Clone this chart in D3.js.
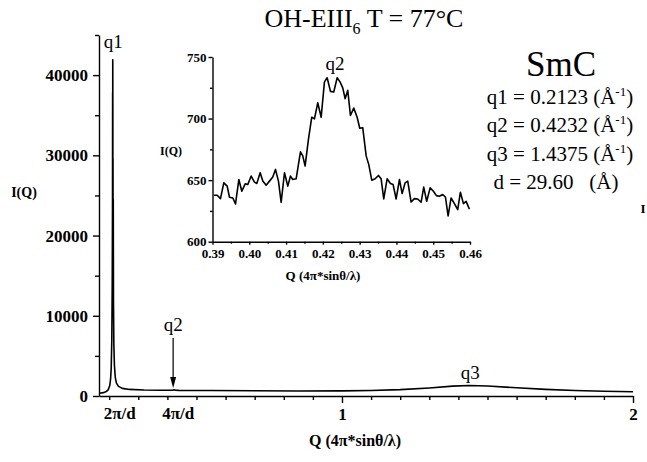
<!DOCTYPE html>
<html>
<head>
<meta charset="utf-8">
<script src="https://cdn.jsdelivr.net/npm/d3@7"></script>
<style>
  html, body { margin: 0; padding: 0; background: #fff; }
  svg { display: block; font-family: "Liberation Serif", "Times New Roman", serif; }
  .tick text { font-family: "Liberation Serif", serif; font-weight: bold; fill: #000; }
  .domain, .tick line { stroke: #000; stroke-width: 1.4; }
</style>
</head>
<body>
<svg id="chart" width="647" height="462"></svg>
<script>
// ---- Main pattern data (Q, I) ----
const mainQ = [0.167, 0.180, 0.190, 0.197, 0.202, 0.205, 0.207, 0.209, 0.2105, 0.2115, 0.2118, 0.2120, 0.2123, 0.2126, 0.2128, 0.2131, 0.2135, 0.2140, 0.2147, 0.216, 0.218, 0.221, 0.225, 0.232, 0.245, 0.27, 0.32, 0.38, 0.41, 0.418, 0.4232, 0.428, 0.44, 0.55, 0.7, 0.85, 1.0, 1.1, 1.2, 1.3, 1.38, 1.4375, 1.5, 1.6, 1.7, 1.8, 1.9, 2.0];
const mainI = [350, 420, 550, 800, 1300, 2200, 3500, 7000, 14000, 25000, 37800, 30000, 41900, 36000, 23000, 29500, 18000, 24500, 12000, 6500, 3800, 2300, 1600, 1200, 950, 820, 750, 720, 710, 720, 780, 720, 700, 680, 650, 630, 640, 680, 790, 1000, 1230, 1300, 1240, 1020, 820, 680, 590, 530];

// ---- Inset data (Q, I) around q2 ----
const insetQ = [0.39036, 0.39127, 0.39217, 0.39308, 0.39399, 0.39462, 0.39553, 0.39625, 0.39716, 0.39797, 0.39888, 0.39960, 0.40051, 0.40141, 0.40205, 0.40295, 0.40368, 0.40458, 0.40549, 0.40639, 0.40712, 0.40793, 0.40866, 0.40957, 0.41047, 0.41120, 0.41182, 0.41274, 0.41391, 0.41454, 0.41518, 0.41609, 0.41698, 0.41772, 0.41861, 0.41954, 0.42043, 0.42117, 0.42207, 0.42296, 0.42389, 0.42467, 0.42541, 0.42606, 0.42677, 0.42750, 0.42840, 0.42932, 0.43003, 0.43084, 0.43177, 0.43247, 0.43329, 0.43421, 0.43511, 0.43584, 0.43655, 0.43747, 0.43837, 0.43910, 0.43992, 0.44082, 0.44155, 0.44236, 0.44307, 0.44399, 0.44489, 0.44579, 0.44671, 0.44742, 0.44823, 0.44916, 0.45005, 0.45087, 0.45168, 0.45258, 0.45332, 0.45405, 0.45486, 0.45576, 0.45666, 0.45739, 0.45821, 0.45894, 0.45984];
const insetI = [637.7, 637.7, 635.0, 647.8, 645.1, 636.1, 635.5, 630.6, 650.5, 641.0, 647.0, 646.4, 653.3, 648.4, 647.3, 656.0, 649.2, 645.9, 649.2, 652.5, 658.7, 649.2, 632.0, 656.0, 645.1, 653.3, 650.5, 651.1, 673.0, 669.7, 661.5, 683.3, 701.1, 699.7, 712.8, 701.1, 729.8, 733.1, 722.1, 721.6, 733.1, 729.8, 724.9, 716.1, 723.0, 702.5, 708.5, 701.1, 692.1, 692.6, 669.7, 662.8, 650.0, 651.1, 653.8, 651.1, 634.7, 651.1, 647.3, 646.4, 634.7, 650.5, 639.1, 647.8, 649.2, 632.2, 635.0, 634.7, 632.0, 644.3, 632.8, 643.7, 641.0, 637.4, 636.9, 638.3, 636.3, 621.0, 635.5, 630.9, 626.0, 640.2, 630.9, 632.8, 626.5];

// ---- Ticks ----
const mainYMajor = [0, 10000, 20000, 30000, 40000];
const mainYMinor = [5000, 15000, 25000, 35000, 45000];
const mainXMajor = [1, 2];
const mainXMinor = [0.2, 0.3, 0.4, 0.5, 0.6, 0.7, 0.8, 0.9, 1.1, 1.2, 1.3, 1.4, 1.5, 1.6, 1.7, 1.8, 1.9];
const insetYMajor = [600, 650, 700, 750];
const insetYMinor = [625, 675, 725];
const insetXMajor = [0.39, 0.40, 0.41, 0.42, 0.43, 0.44, 0.45, 0.46];
const insetXMinor = [0.395, 0.405, 0.415, 0.425, 0.435, 0.445, 0.455];

// ---- Peak annotations ----
const peakNames = ["q1", "q2", "q3"];
const peakQ = [0.2123, 0.4232, 1.4375];
const specialXLabels = ["2π/d", "4π/d"];
const specialXPos = [0.2123, 0.4232];
const infoLines = ["q1 = 0.2123", "q2 = 0.4232", "q3 = 1.4375"];

const svg = d3.select("#chart");

// ===== Main chart =====
const x = d3.scaleLinear().domain([0.165, 2]).range([99, 633]);
const y = d3.scaleLinear().domain([0, 45000]).range([396, 35]);

const gy = svg.append("g").attr("transform", "translate(99,0)");
gy.call(d3.axisLeft(y).tickValues(mainYMajor).tickSize(6).tickSizeOuter(0).tickPadding(5).tickFormat(d3.format("d")));
gy.selectAll(".tick text").style("font-size", "17px");
svg.append("g").attr("transform", "translate(99,0)")
  .call(d3.axisLeft(y).tickValues(mainYMinor).tickSize(4).tickSizeOuter(0).tickFormat(""))
  .select(".domain").remove();

const gx = svg.append("g").attr("transform", "translate(0,396)");
gx.call(d3.axisBottom(x).tickValues(mainXMajor).tickSize(7).tickSizeOuter(0).tickPadding(5).tickFormat(d3.format("d")));
gx.selectAll(".tick text").style("font-size", "17px");
svg.append("g").attr("transform", "translate(0,396)")
  .call(d3.axisBottom(x).tickValues(mainXMinor).tickSize(4).tickSizeOuter(0).tickFormat(""))
  .select(".domain").remove();

// special x labels
svg.selectAll("text.spec").data(specialXLabels).enter().append("text")
  .attr("class", "spec")
  .attr("x", (d, i) => x(specialXPos[i]) + (i === 0 ? 7 : 4))
  .attr("y", 419)
  .attr("text-anchor", "middle")
  .style("font-size", "17px").style("font-weight", "bold")
  .text(d => d);

const mainData = mainQ.map((q, i) => [q, mainI[i]]);
svg.append("path").datum(mainData)
  .attr("fill", "none").attr("stroke", "#000").attr("stroke-width", 1.6)
  .attr("stroke-linejoin", "round")
  .attr("d", d3.line().x(d => x(d[0])).y(d => y(d[1])));

// axis titles
svg.append("text").attr("x", 24).attr("y", 197).attr("text-anchor", "middle")
  .style("font-size", "14px").style("font-weight", "bold").text("I(Q)");
svg.append("text").attr("x", 355).attr("y", 446).attr("text-anchor", "middle")
  .style("font-size", "16px").style("font-weight", "bold").text("Q (4π*sinθ/λ)");

// peak labels
svg.append("text").attr("x", x(peakQ[0]) + 0.5).attr("y", 48).attr("text-anchor", "middle")
  .style("font-size", "19px").text(peakNames[0]);
svg.append("text").attr("x", x(peakQ[1]) - 1).attr("y", 331).attr("text-anchor", "middle")
  .style("font-size", "19px").text(peakNames[1]);
svg.append("text").attr("x", x(peakQ[2]) + 1).attr("y", 379).attr("text-anchor", "middle")
  .style("font-size", "19px").text(peakNames[2]);

// arrow to q2
const ax = x(peakQ[1]) - 1;
svg.append("line").attr("x1", ax).attr("x2", ax).attr("y1", 338).attr("y2", 380)
  .attr("stroke", "#000").attr("stroke-width", 1.2);
svg.append("path")
  .attr("d", `M${ax - 3},${377} L${ax + 3},${377} L${ax},${388} Z`)
  .attr("fill", "#000");

// title
const title = svg.append("text").attr("x", 364).attr("y", 27).attr("text-anchor", "middle")
  .style("font-size", "26px");
title.append("tspan").text("OH-EIII");
title.append("tspan").attr("dy", 7).style("font-size", "16px").text("6");
title.append("tspan").attr("dy", -7).text(" T = 77°C");

// info block
svg.append("text").attr("x", 561).attr("y", 76).attr("text-anchor", "middle")
  .style("font-size", "35px").text("SmC");
infoLines.forEach((t, i) => {
  const tx = svg.append("text").attr("x", 560).attr("y", 104 + i * 28.3).attr("text-anchor", "middle")
    .style("font-size", "21px");
  tx.append("tspan").text(t + " (Å");
  tx.append("tspan").attr("dy", -8).style("font-size", "13px").text("-1");
  tx.append("tspan").attr("dy", 8).text(")");
});
svg.append("text").attr("x", 556).attr("y", 189).attr("text-anchor", "middle")
  .style("font-size", "21px").style("white-space", "pre").text("d = 29.60   (Å)");
svg.append("text").attr("x", 643).attr("y", 213).attr("text-anchor", "middle")
  .style("font-size", "13px").style("font-weight", "bold").text("I");

// ===== Inset =====
const xi = d3.scaleLinear().domain([0.39, 0.46]).range([212.5, 470]);
const yi = d3.scaleLinear().domain([600, 750]).range([241.7, 57]);

const giy = svg.append("g").attr("transform", "translate(212.5,0)");
giy.call(d3.axisLeft(yi).tickValues(insetYMajor).tickSize(4).tickSizeOuter(0).tickPadding(2).tickFormat(d3.format("d")));
giy.selectAll(".tick text").style("font-size", "13px");
svg.append("g").attr("transform", "translate(212.5,0)")
  .call(d3.axisLeft(yi).tickValues(insetYMinor).tickSize(2.5).tickSizeOuter(0).tickFormat(""))
  .select(".domain").remove();

const gix = svg.append("g").attr("transform", "translate(0,241.7)");
gix.call(d3.axisBottom(xi).tickValues(insetXMajor).tickSize(3).tickSizeOuter(0).tickPadding(4).tickFormat(d3.format(".2f")));
gix.selectAll(".tick text").style("font-size", "13px");
svg.append("g").attr("transform", "translate(0,241.7)")
  .call(d3.axisBottom(xi).tickValues(insetXMinor).tickSize(2).tickSizeOuter(0).tickFormat(""))
  .select(".domain").remove();

svg.selectAll("g .domain").attr("stroke-width", 1.4);

const insetData = insetQ.map((q, i) => [q, insetI[i]]);
svg.append("path").datum(insetData)
  .attr("fill", "none").attr("stroke", "#000").attr("stroke-width", 1.6)
  .attr("stroke-linejoin", "round")
  .attr("d", d3.line().x(d => xi(d[0])).y(d => yi(d[1])));

svg.append("text").attr("x", 171).attr("y", 155).attr("text-anchor", "middle")
  .style("font-size", "12px").style("font-weight", "bold").text("I(Q)");
svg.append("text").attr("x", 323).attr("y", 280).attr("text-anchor", "middle")
  .style("font-size", "13px").style("font-weight", "bold").text("Q (4π*sinθ/λ)");
svg.append("text").attr("x", 335).attr("y", 70).attr("text-anchor", "middle")
  .style("font-size", "19px").text(peakNames[1]);
</script>
</body>
</html>
